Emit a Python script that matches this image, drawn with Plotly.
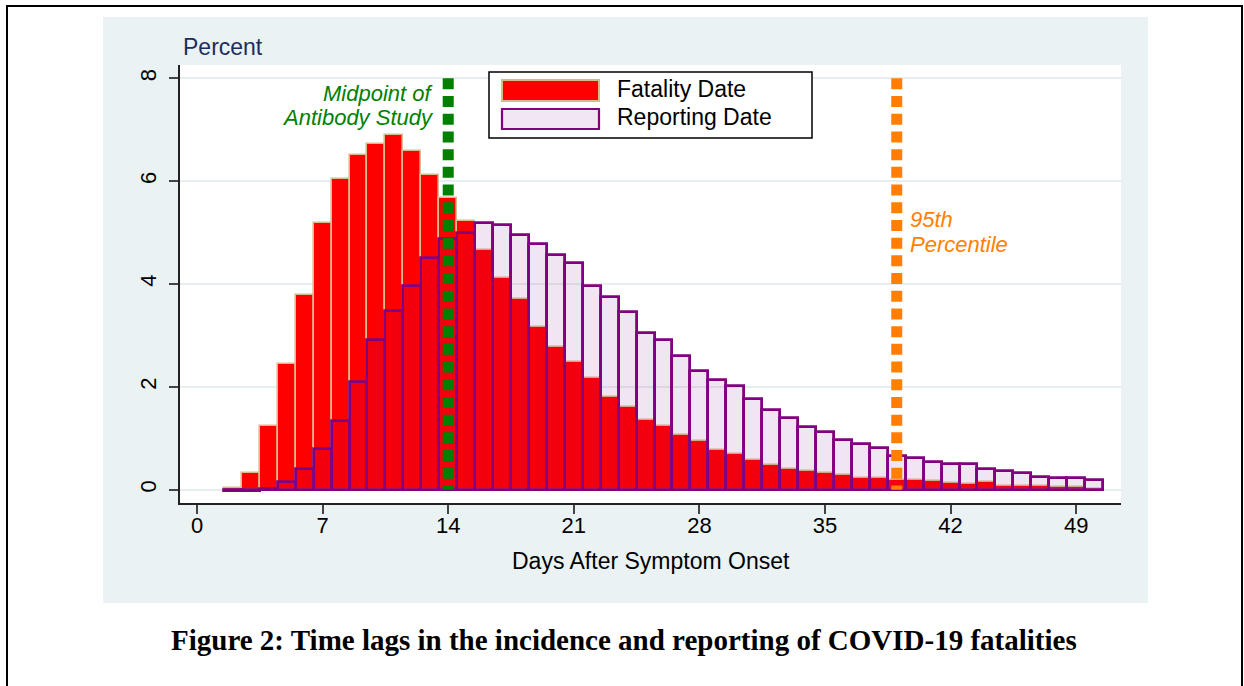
import plotly.graph_objects as go

# ---------------- data ----------------
days = list(range(2, 51))
fatality_pct = [0.04, 0.33, 1.23, 2.45, 3.78, 5.19, 6.05, 6.51, 6.73, 6.90,
                6.58, 6.13, 5.68, 5.23, 4.66, 4.12, 3.71, 3.17, 2.77, 2.49,
                2.17, 1.80, 1.60, 1.35, 1.24, 1.06, 0.94, 0.77, 0.69, 0.57,
                0.48, 0.41, 0.36, 0.33, 0.28, 0.22, 0.22, 0.18, 0.18, 0.16,
                0.12, 0.10, 0.14, 0.07, 0.07, 0.07, 0.05, 0.05, 0.02]
reporting_pct = [-0.03, -0.03, 0.01, 0.14, 0.40, 0.80, 1.33, 2.09, 2.91, 3.48,
                 3.97, 4.50, 4.87, 5.00, 5.18, 5.15, 4.95, 4.78, 4.56, 4.40,
                 3.96, 3.75, 3.45, 3.04, 2.91, 2.60, 2.31, 2.13, 2.01, 1.76,
                 1.54, 1.40, 1.22, 1.13, 0.96, 0.88, 0.81, 0.65, 0.61, 0.53,
                 0.50, 0.50, 0.40, 0.37, 0.33, 0.24, 0.23, 0.22, 0.19]
x_ticks = [0, 7, 14, 21, 28, 35, 42, 49]
y_ticks = [0, 2, 4, 6, 8]
midpoint_day = 14
p95_day = 39
ref_line_y = [8, 0]
series_names = ["Fatality Date", "Reporting Date"]
caption = "Figure 2: Time lags in the incidence and reporting of COVID-19 fatalities"

# ---------------- geometry (pixels) ----------------
W, H = 1244, 686
L, R, T, B = 180, 1121, 65, 503
pw, ph = R - L, B - T


def px(x):
    return (x - L) / pw


def py(y):
    return (B - y) / ph


SANS = "Liberation Sans, Arial, sans-serif"
RED = "#FF0000"
TAN = "#D9B98E"
PURPLE = "#800080"
LAV = "rgba(128,0,128,0.1)"
GREEN = "#008000"
ORANGE = "#FF8000"
PANEL = "#EAF2F3"

fig = go.Figure()

fig.add_trace(go.Bar(x=days, y=fatality_pct, width=1, name=series_names[0],
                     marker=dict(color=RED, line=dict(color=TAN, width=1.6)),
                     showlegend=False))
fig.add_trace(go.Bar(x=days, y=reporting_pct, width=1, name=series_names[1],
                     marker=dict(color=LAV, line=dict(color=PURPLE, width=2.8)),
                     showlegend=False))

fig.add_trace(go.Scatter(x=[midpoint_day, midpoint_day], y=ref_line_y, mode="lines",
                         line=dict(color=GREEN, width=11, dash="11px,6.7px"),
                         showlegend=False, hoverinfo="skip"))
fig.add_trace(go.Scatter(x=[p95_day, p95_day], y=ref_line_y, mode="lines",
                         line=dict(color=ORANGE, width=11, dash="11px,6.7px"),
                         showlegend=False, hoverinfo="skip"))

shapes = [
    # grey graph region
    dict(type="rect", xref="paper", yref="paper", x0=px(103), x1=px(1148),
         y0=py(603), y1=py(17), fillcolor=PANEL, line=dict(width=0), layer="below"),
    # white plot region
    dict(type="rect", xref="paper", yref="paper", x0=0, x1=1, y0=0, y1=1,
         fillcolor="white", line=dict(width=0), layer="below"),
    # outer page frame
    dict(type="rect", xref="paper", yref="paper", x0=px(7), x1=px(1242),
         y0=py(720), y1=py(6), fillcolor="rgba(0,0,0,0)",
         line=dict(color="black", width=2), layer="above"),
    # legend box
    dict(type="rect", xref="paper", yref="paper", x0=px(489), x1=px(812),
         y0=py(138), y1=py(72), fillcolor="white",
         line=dict(color="black", width=1.5), layer="above"),
    dict(type="rect", xref="paper", yref="paper", x0=px(502), x1=px(599),
         y0=py(101), y1=py(80), fillcolor=RED,
         line=dict(color=TAN, width=2), layer="above"),
    dict(type="rect", xref="paper", yref="paper", x0=px(502), x1=px(599),
         y0=py(129), y1=py(109), fillcolor="#F2E6F2",
         line=dict(color=PURPLE, width=2.2), layer="above"),
]

big = dict(family=SANS, size=23)
two_line = dict(family=SANS, size=22)
annotations = [
    dict(xref="paper", yref="paper", x=px(615), y=py(89), text=series_names[0],
         showarrow=False, xanchor="left", yanchor="middle",
         font=dict(big, color="black")),
    dict(xref="paper", yref="paper", x=px(615), y=py(117), text=series_names[1],
         showarrow=False, xanchor="left", yanchor="middle",
         font=dict(big, color="black")),
    dict(xref="paper", yref="paper", x=px(436), y=py(93), text="<i>Midpoint of</i>",
         showarrow=False, xanchor="right", yanchor="middle",
         font=dict(two_line, color=GREEN)),
    dict(xref="paper", yref="paper", x=px(436), y=py(118), text="<i>Antibody Study</i>",
         showarrow=False, xanchor="right", yanchor="middle",
         font=dict(two_line, color=GREEN)),
    dict(xref="paper", yref="paper", x=px(908), y=py(219), text="<i>95th</i>",
         showarrow=False, xanchor="left", yanchor="middle",
         font=dict(two_line, color=ORANGE)),
    dict(xref="paper", yref="paper", x=px(908), y=py(244), text="<i>Percentile</i>",
         showarrow=False, xanchor="left", yanchor="middle",
         font=dict(two_line, color=ORANGE)),
    dict(xref="paper", yref="paper", x=px(181), y=py(47), text="Percent",
         showarrow=False, xanchor="left", yanchor="middle",
         font=dict(big, color="#1F2D5A")),
    dict(xref="paper", yref="paper", x=px(651), y=py(561), text="Days After Symptom Onset",
         showarrow=False, xanchor="center", yanchor="middle",
         font=dict(big, color="black")),
    dict(xref="paper", yref="paper", x=px(624), y=py(640), text="<b>" + caption + "</b>",
         showarrow=False, xanchor="center", yanchor="middle",
         font=dict(family="Liberation Serif, Times New Roman, serif", size=29, color="black")),
]

fig.update_layout(
    width=W, height=H,
    margin=dict(l=L, r=W - R, t=T, b=H - B, pad=0),
    paper_bgcolor="white", plot_bgcolor="white",
    barmode="overlay", bargap=0,
    shapes=shapes, annotations=annotations,
    showlegend=False,
    xaxis=dict(range=[-0.95, 51.5], tickvals=x_ticks, ticks="outside", ticklen=9,
               tickcolor="#444", tickwidth=1.5, showline=True, linecolor="#222",
               linewidth=1.5, showgrid=False, zeroline=False, ticklabelstandoff=-7,
               tickfont=dict(family=SANS, size=22, color="black")),
    yaxis=dict(range=[-0.26, 8.26], tickvals=y_ticks, ticks="outside", ticklen=9,
               tickcolor="#444", tickwidth=1.5, showline=True, linecolor="#222",
               linewidth=1.5, showgrid=True, gridcolor="#E6EEF1", gridwidth=1.5,
               zeroline=False, tickangle=-90, ticklabelstandoff=4,
               tickfont=dict(family=SANS, size=22, color="black")),
)

fig.write_html("out.html", config={"displayModeBar": False},
               post_script="document.body.style.margin='0';")
